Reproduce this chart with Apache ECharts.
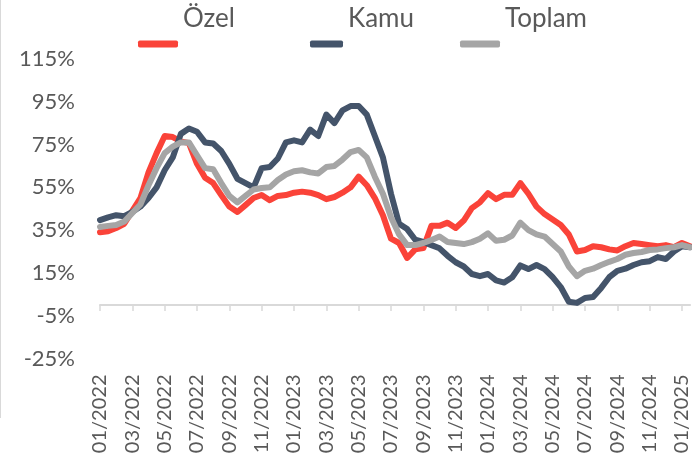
<!DOCTYPE html>
<html>
<head>
<meta charset="utf-8">
<script src="https://cdn.jsdelivr.net/npm/echarts@6/dist/echarts.min.js"></script>
<style>
html,body{margin:0;padding:0;background:#fff;}
#chart{width:692px;height:460px;}
</style>
</head>
<body>
<div id="chart"></div>
<script>
var categories = [
'2022-01-01','2022-01-16','2022-02-01','2022-02-16','2022-03-01','2022-03-16','2022-04-01','2022-04-16',
'2022-05-01','2022-05-16','2022-06-01','2022-06-16','2022-07-01','2022-07-16','2022-08-01','2022-08-16',
'2022-09-01','2022-09-16','2022-10-01','2022-10-16','2022-11-01','2022-11-16','2022-12-01','2022-12-16',
'2023-01-01','2023-01-16','2023-02-01','2023-02-16','2023-03-01','2023-03-16','2023-04-01','2023-04-16',
'2023-05-01','2023-05-16','2023-06-01','2023-06-16','2023-07-01','2023-07-16','2023-08-01','2023-08-16',
'2023-09-01','2023-09-16','2023-10-01','2023-10-16','2023-11-01','2023-11-16','2023-12-01','2023-12-16',
'2024-01-01','2024-01-16','2024-02-01','2024-02-16','2024-03-01','2024-03-16','2024-04-01','2024-04-16',
'2024-05-01','2024-05-16','2024-06-01','2024-06-16','2024-07-01','2024-07-16','2024-08-01','2024-08-16',
'2024-09-01','2024-09-16','2024-10-01','2024-10-16','2024-11-01','2024-11-16','2024-12-01','2024-12-16',
'2025-01-01','2025-01-16'
];
var ozel = [34,34.5,36,38,44,50,62,71,79,78.5,76.5,75.7,66,59.5,57,51.4,46,43.5,46.7,50,51.4,49,51,51.4,52.5,53,52.5,51.4,49.5,50.5,52.5,55,60,56,50,42,31,29,22,26,26.6,37,37,38.5,36,39.5,45.3,48,52.3,49.5,51.5,51.5,57,52,46,42.5,40,37.4,33,25,25.7,27.5,27,26,25.5,27.5,29,28.5,28,27.5,28,27,29,27.5];
var kamu = [39.7,41,42,41.5,43.5,46,50,55,63,69,80,82.5,81,76,75.5,72,66,59,57,55,64,64.5,68.5,76,77,76,82,79,89,85,91,93,93,89,79,69,52,38,35.5,30.5,29.5,28,26.5,23,20,18,14.5,13.5,14.5,11.5,10.5,13,18.5,16.8,18.7,16.8,13,8.4,1.5,1,3.3,3.7,8,13,16,17,18.7,20,20.5,22.4,21.5,25,27.5,27];
var toplam = [36.5,37,37.4,39,43,47,56,64,71,74,76,76,70,64,63.5,57,51,48,51,54,54.7,55,58.4,61,62.5,63,62,61.5,64.5,65,68,71.5,72.5,69,60,52,41,33,28,28,29,30.4,32,29.5,29,28.5,29.4,31,33.5,30,30.5,32.5,38.5,35,33,32,28.5,25,18,13.5,16,17,18.7,20.2,21.5,23.5,24.3,24.8,25.7,26,26.6,27,28,27];
var seriesNames = ['Özel','Kamu','Toplam'];
var yTicks = {min:-25, max:115, interval:20};

var colors = ['#FA4339','#44546A','#A5A5A5'];
var FONT = 'Lato';
var chart = echarts.init(document.getElementById('chart'), null, {renderer:'canvas'});

function legendAt(name, left, w) {
  return {
    data:[name], left:left, top:6, padding:0, orient:'horizontal',
    icon:'roundRect', itemWidth:w, itemHeight:7,
    formatter: function(n){ return '{t|' + n + '}\n{s| }'; },
    textStyle:{
      fontFamily:FONT, fontSize:26, color:'#595959',
      rich:{
        t:{fontFamily:FONT, fontSize:26, color:'#595959', lineHeight:30},
        s:{fontSize:10, lineHeight:50}
      }
    }
  };
}
function fmtDate(v){ return v.substr(5,2) + '/' + v.substr(0,4); }

var option = {
  animation:false,
  backgroundColor:'#ffffff',
  color: colors,
  legend:[legendAt(seriesNames[0],138,40), legendAt(seriesNames[1],310,33), legendAt(seriesNames[2],460,40)],
  grid:{left:100, right:0, top:59, bottom:101.5, containLabel:false},
  xAxis:[{
    type:'category', data:categories, boundaryGap:false,
    axisLine:{show:true, onZero:true, lineStyle:{color:'#D9D9D9', width:2}},
    axisTick:{show:true, interval:3, length:6, lineStyle:{color:'#D9D9D9', width:1.5}},
    axisLabel:{show:false}, splitLine:{show:false}
  },{
    type:'category', data:categories, boundaryGap:false, position:'bottom',
    axisLine:{show:false, onZero:false}, axisTick:{show:false}, splitLine:{show:false},
    axisLabel:{show:true, interval:3, rotate:90, margin:16, fontFamily:FONT, fontSize:20, color:'#595959', formatter:fmtDate}
  }],
  yAxis:{
    type:'value', min:yTicks.min, max:yTicks.max, interval:yTicks.interval,
    axisLine:{show:false}, axisTick:{show:false}, splitLine:{show:false},
    axisLabel:{formatter:'{value}%', margin:25, fontFamily:FONT, fontSize:22, color:'#595959'}
  },
  series:[
    {name:seriesNames[0], type:'line', data:ozel, showSymbol:false, symbol:'none', xAxisIndex:0, lineStyle:{width:6, cap:'round', join:'round'}, z:3},
    {name:seriesNames[1], type:'line', data:kamu, showSymbol:false, symbol:'none', xAxisIndex:0, lineStyle:{width:6, cap:'round', join:'round'}, z:4},
    {name:seriesNames[2], type:'line', data:toplam, showSymbol:false, symbol:'none', xAxisIndex:0, lineStyle:{width:6, cap:'round', join:'round'}, z:5}
  ],
  graphic:[{type:'line', shape:{x1:0.5,y1:0,x2:0.5,y2:418}, style:{stroke:'#D9D9D9', lineWidth:1}, silent:true}]
};
chart.setOption(option);
</script>
</body>
</html>
